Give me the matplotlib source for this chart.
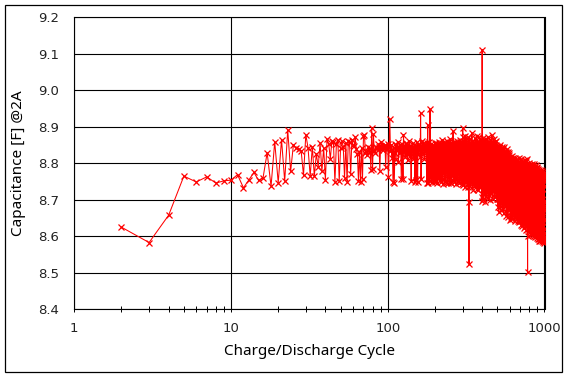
import numpy as np
import matplotlib
matplotlib.use("Agg")
import matplotlib.pyplot as plt
from matplotlib.patches import Rectangle
from matplotlib.ticker import FixedLocator, LogLocator, NullFormatter

# ---------------- data (capacitance [F] per charge/discharge cycle, starting at cycle 2) ----------------
cap_002_100 = [
    8.625, 8.583, 8.658, 8.765, 8.749, 8.763, 8.746, 8.752, 8.754,
    8.769, 8.733, 8.755, 8.775, 8.753, 8.760, 8.829, 8.737, 8.859, 8.747,
    8.865, 8.751, 8.892, 8.778, 8.851, 8.842, 8.838, 8.835, 8.767, 8.879,
    8.842, 8.765, 8.845, 8.765, 8.826, 8.790, 8.856, 8.778, 8.843, 8.755,
    8.866, 8.854, 8.812, 8.862, 8.858, 8.748, 8.852, 8.865, 8.752, 8.843,
    8.860, 8.845, 8.760, 8.855, 8.750, 8.862, 8.858, 8.770, 8.865, 8.850,
    8.848, 8.872, 8.838, 8.826, 8.752, 8.831, 8.748, 8.842, 8.758, 8.874,
    8.878, 8.828, 8.834, 8.822, 8.846, 8.830, 8.841, 8.782, 8.897, 8.784,
    8.880, 8.835, 8.828, 8.846, 8.842, 8.837, 8.852, 8.845, 8.780, 8.848,
    8.858, 8.840, 8.836, 8.848, 8.843, 8.851, 8.789, 8.847, 8.838, 8.852,
]
cap_101_200 = [
    8.762, 8.846, 8.921, 8.834, 8.851, 8.815, 8.838, 8.748, 8.842, 8.746,
    8.829, 8.853, 8.812, 8.845, 8.836, 8.858, 8.804, 8.841, 8.827, 8.849,
    8.838, 8.756, 8.844, 8.852, 8.758, 8.879, 8.831, 8.842, 8.818, 8.855,
    8.839, 8.826, 8.851, 8.808, 8.844, 8.835, 8.862, 8.821, 8.847, 8.833,
    8.752, 8.845, 8.838, 8.856, 8.813, 8.843, 8.829, 8.851, 8.749, 8.839,
    8.847, 8.754, 8.833, 8.858, 8.748, 8.842, 8.826, 8.851, 8.837, 8.845,
    8.818, 8.938, 8.756, 8.848, 8.833, 8.861, 8.825, 8.844, 8.839, 8.857,
    8.812, 8.846, 8.835, 8.852, 8.829, 8.847, 8.745, 8.838, 8.856, 8.906,
    8.747, 8.842, 8.834, 8.858, 8.752, 8.949, 8.761, 8.845, 8.831, 8.853,
    8.749, 8.844, 8.838, 8.756, 8.851, 8.829, 8.846, 8.752, 8.840, 8.855,
]
cap_201_300 = [
    8.748, 8.843, 8.857, 8.751, 8.836, 8.848, 8.746, 8.852, 8.831, 8.763,
    8.845, 8.839, 8.858, 8.755, 8.842, 8.834, 8.749, 8.851, 8.826, 8.847,
    8.757, 8.863, 8.838, 8.744, 8.849, 8.832, 8.855, 8.768, 8.841, 8.846,
    8.752, 8.858, 8.829, 8.843, 8.747, 8.851, 8.836, 8.772, 8.861, 8.840,
    8.745, 8.848, 8.833, 8.856, 8.758, 8.842, 8.837, 8.749, 8.854, 8.866,
    8.761, 8.845, 8.830, 8.852, 8.746, 8.839, 8.857, 8.764, 8.848, 8.835,
    8.888, 8.753, 8.844, 8.828, 8.859, 8.748, 8.841, 8.850, 8.775, 8.836,
    8.855, 8.744, 8.847, 8.832, 8.862, 8.759, 8.843, 8.838, 8.751, 8.853,
    8.829, 8.846, 8.766, 8.857, 8.835, 8.747, 8.849, 8.841, 8.758, 8.864,
    8.833, 8.752, 8.845, 8.858, 8.762, 8.839, 8.851, 8.743, 8.847, 8.872,
]
cap_301_400 = [
    8.897, 8.782, 8.846, 8.741, 8.823, 8.862, 8.768, 8.811, 8.849, 8.735,
    8.874, 8.796, 8.829, 8.752, 8.858, 8.781, 8.837, 8.744, 8.866, 8.803,
    8.758, 8.842, 8.779, 8.853, 8.736, 8.819, 8.871, 8.762, 8.693, 8.523,
    8.803, 8.844, 8.748, 8.868, 8.791, 8.826, 8.739, 8.857, 8.774, 8.816,
    8.851, 8.745, 8.832, 8.884, 8.767, 8.809, 8.843, 8.728, 8.862, 8.786,
    8.821, 8.754, 8.848, 8.797, 8.738, 8.856, 8.813, 8.771, 8.839, 8.749,
    8.869, 8.788, 8.824, 8.742, 8.851, 8.803, 8.764, 8.845, 8.731, 8.876,
    8.792, 8.818, 8.755, 8.861, 8.784, 8.836, 8.726, 8.849, 8.807, 8.768,
    8.857, 8.741, 8.828, 8.872, 8.779, 8.813, 8.752, 8.846, 8.798, 8.735,
    8.863, 8.787, 8.819, 8.744, 8.854, 8.771, 8.831, 8.709, 8.696, 9.112,
]
cap_401_500 = [
    8.812, 8.743, 8.856, 8.781, 8.702, 8.838, 8.764, 8.869, 8.727, 8.805,
    8.846, 8.751, 8.792, 8.863, 8.718, 8.824, 8.773, 8.837, 8.695, 8.851,
    8.784, 8.742, 8.866, 8.809, 8.733, 8.829, 8.761, 8.855, 8.706, 8.797,
    8.843, 8.758, 8.818, 8.724, 8.871, 8.776, 8.801, 8.739, 8.849, 8.768,
    8.712, 8.834, 8.789, 8.859, 8.745, 8.817, 8.699, 8.842, 8.772, 8.826,
    8.753, 8.864, 8.731, 8.798, 8.837, 8.715, 8.856, 8.769, 8.806, 8.741,
    8.877, 8.786, 8.723, 8.845, 8.762, 8.829, 8.703, 8.814, 8.853, 8.748,
    8.795, 8.838, 8.726, 8.866, 8.779, 8.743, 8.821, 8.764, 8.847, 8.708,
    8.811, 8.755, 8.858, 8.734, 8.793, 8.832, 8.717, 8.849, 8.771, 8.802,
    8.739, 8.862, 8.786, 8.724, 8.827, 8.758, 8.843, 8.701, 8.815, 8.776,
]
cap_501_600 = [
    8.848, 8.722, 8.793, 8.681, 8.824, 8.756, 8.836, 8.703, 8.771, 8.812,
    8.668, 8.845, 8.739, 8.798, 8.714, 8.829, 8.752, 8.686, 8.817, 8.763,
    8.851, 8.708, 8.784, 8.733, 8.826, 8.672, 8.807, 8.749, 8.838, 8.696,
    8.779, 8.817, 8.727, 8.844, 8.691, 8.762, 8.803, 8.718, 8.833, 8.745,
    8.674, 8.821, 8.758, 8.795, 8.706, 8.839, 8.735, 8.782, 8.663, 8.814,
    8.769, 8.728, 8.846, 8.689, 8.801, 8.751, 8.823, 8.712, 8.776, 8.834,
    8.682, 8.792, 8.741, 8.815, 8.698, 8.829, 8.764, 8.723, 8.809, 8.657,
    8.786, 8.832, 8.715, 8.758, 8.819, 8.677, 8.797, 8.744, 8.838, 8.702,
    8.768, 8.811, 8.734, 8.654, 8.826, 8.752, 8.789, 8.693, 8.831, 8.729,
    8.805, 8.671, 8.774, 8.822, 8.716, 8.763, 8.828, 8.685, 8.799, 8.741,
]
cap_601_700 = [
    8.818, 8.696, 8.758, 8.645, 8.802, 8.731, 8.779, 8.667, 8.812, 8.719,
    8.754, 8.683, 8.807, 8.742, 8.651, 8.791, 8.726, 8.773, 8.698, 8.821,
    8.711, 8.766, 8.648, 8.795, 8.737, 8.689, 8.814, 8.722, 8.757, 8.662,
    8.786, 8.704, 8.748, 8.809, 8.676, 8.739, 8.797, 8.658, 8.771, 8.716,
    8.803, 8.692, 8.752, 8.643, 8.784, 8.728, 8.816, 8.681, 8.745, 8.702,
    8.789, 8.655, 8.762, 8.735, 8.808, 8.673, 8.721, 8.776, 8.647, 8.794,
    8.714, 8.758, 8.687, 8.806, 8.733, 8.661, 8.781, 8.706, 8.744, 8.812,
    8.669, 8.753, 8.724, 8.792, 8.641, 8.768, 8.709, 8.801, 8.684, 8.738,
    8.779, 8.652, 8.815, 8.726, 8.695, 8.763, 8.638, 8.797, 8.713, 8.748,
    8.671, 8.786, 8.732, 8.804, 8.659, 8.741, 8.698, 8.775, 8.644, 8.759,
]
cap_701_800 = [
    8.803, 8.678, 8.739, 8.632, 8.771, 8.706, 8.794, 8.655, 8.727, 8.689,
    8.812, 8.643, 8.754, 8.718, 8.668, 8.783, 8.697, 8.741, 8.627, 8.769,
    8.702, 8.798, 8.661, 8.735, 8.684, 8.806, 8.648, 8.751, 8.714, 8.776,
    8.636, 8.729, 8.692, 8.789, 8.657, 8.745, 8.709, 8.624, 8.768, 8.681,
    8.797, 8.719, 8.646, 8.758, 8.698, 8.781, 8.629, 8.737, 8.671, 8.809,
    8.703, 8.652, 8.764, 8.724, 8.639, 8.792, 8.686, 8.748, 8.618, 8.775,
    8.695, 8.733, 8.658, 8.806, 8.711, 8.664, 8.786, 8.627, 8.742, 8.707,
    8.779, 8.645, 8.721, 8.682, 8.813, 8.673, 8.756, 8.634, 8.601, 8.501,
    8.712, 8.791, 8.654, 8.738, 8.689, 8.771, 8.621, 8.747, 8.702, 8.793,
    8.668, 8.726, 8.641, 8.784, 8.695, 8.752, 8.616, 8.735, 8.679, 8.802,
]
cap_801_900 = [
    8.662, 8.739, 8.611, 8.774, 8.693, 8.648, 8.787, 8.704, 8.627, 8.756,
    8.681, 8.796, 8.638, 8.721, 8.605, 8.762, 8.674, 8.745, 8.617, 8.783,
    8.698, 8.656, 8.771, 8.629, 8.714, 8.792, 8.643, 8.733, 8.608, 8.758,
    8.687, 8.776, 8.634, 8.709, 8.652, 8.798, 8.676, 8.742, 8.613, 8.765,
    8.696, 8.639, 8.781, 8.667, 8.728, 8.604, 8.754, 8.683, 8.794, 8.645,
    8.717, 8.621, 8.769, 8.691, 8.658, 8.786, 8.632, 8.736, 8.601, 8.761,
    8.674, 8.798, 8.646, 8.712, 8.619, 8.777, 8.688, 8.741, 8.609, 8.753,
    8.665, 8.789, 8.637, 8.724, 8.598, 8.768, 8.681, 8.633, 8.795, 8.706,
    8.652, 8.759, 8.612, 8.731, 8.692, 8.783, 8.626, 8.745, 8.668, 8.602,
    8.774, 8.699, 8.641, 8.787, 8.615, 8.727, 8.676, 8.762, 8.596, 8.734,
]
cap_901_1000 = [
    8.658, 8.791, 8.623, 8.714, 8.594, 8.757, 8.679, 8.632, 8.776, 8.689,
    8.607, 8.743, 8.661, 8.785, 8.618, 8.706, 8.588, 8.761, 8.672, 8.637,
    8.772, 8.694, 8.601, 8.738, 8.655, 8.783, 8.614, 8.725, 8.592, 8.749,
    8.668, 8.629, 8.777, 8.685, 8.603, 8.752, 8.646, 8.718, 8.586, 8.766,
    8.676, 8.621, 8.781, 8.697, 8.599, 8.735, 8.658, 8.609, 8.769, 8.684,
    8.594, 8.746, 8.663, 8.774, 8.611, 8.712, 8.587, 8.758, 8.671, 8.626,
    8.779, 8.692, 8.602, 8.731, 8.648, 8.598, 8.767, 8.679, 8.615, 8.754,
    8.665, 8.589, 8.772, 8.703, 8.627, 8.743, 8.596, 8.686, 8.761, 8.638,
    8.584, 8.729, 8.657, 8.776, 8.605, 8.698, 8.591, 8.752, 8.672, 8.619,
    8.765, 8.683, 8.597, 8.738, 8.644, 8.582, 8.758, 8.671, 8.608, 8.773,
]
first_cycle = 2
x_ticks = [1, 10, 100, 1000]
x_tick_labels = ["1", "10", "100", "1000"]
y_ticks = [8.4, 8.5, 8.6, 8.7, 8.8, 8.9, 9.0, 9.1, 9.2]
y_tick_labels = ["8.4", "8.5", "8.6", "8.7", "8.8", "8.9", "9.0", "9.1", "9.2"]
x_label = "Charge/Discharge Cycle"
y_label = "Capacitance [F] @2A"

capacitance = np.array(cap_002_100 + cap_101_200 + cap_201_300 + cap_301_400 + cap_401_500
                       + cap_501_600 + cap_601_700 + cap_701_800 + cap_801_900 + cap_901_1000)
cycles = np.arange(first_cycle, first_cycle + len(capacitance))

# ---------------- figure ----------------
W, H = 568, 381
fig = plt.figure(figsize=(W / 100, H / 100), dpi=100)
fig.patch.set_facecolor("white")

# outer chart border
fig.add_artist(Rectangle((5.4 / W, 1 - 371.7 / H), (561.7 - 5.4) / W, (371.7 - 5.4) / H,
                         transform=fig.transFigure, fill=False, edgecolor="black", linewidth=0.9))

left, right, top, bottom = 74.3, 544.5, 17.4, 309.3
ax = fig.add_axes([left / W, 1 - bottom / H, (right - left) / W, (bottom - top) / H])

ax.plot(cycles, capacitance, color="#FF0000", linewidth=0.75, marker="x",
        markersize=4.5, markeredgewidth=0.9, zorder=3)

ax.set_xscale("log")
ax.set_xlim(1, 1000)
ax.set_ylim(8.4, 9.2)

ax.xaxis.set_major_locator(FixedLocator(x_ticks))
ax.set_xticklabels(x_tick_labels)
ax.xaxis.set_minor_locator(LogLocator(base=10, subs=np.arange(2, 10)))
ax.xaxis.set_minor_formatter(NullFormatter())
ax.set_yticks(y_ticks)
ax.set_yticklabels(y_tick_labels)

ax.set_axisbelow(True)
ax.grid(True, which="major", color="black", linewidth=0.8)
for s in ax.spines.values():
    s.set_color("black")
    s.set_linewidth(0.8)

ax.tick_params(axis="x", which="both", direction="inout", length=3.8, width=0.7,
               color="black", pad=7.5)
ax.tick_params(axis="y", which="both", length=0, pad=10.8)
for lab in ax.get_xticklabels() + ax.get_yticklabels():
    lab.set_fontfamily("DejaVu Sans")
    lab.set_fontsize(9.5)
    lab.set_color("#222222")

ax.set_xlabel(x_label, fontsize=11, family="Noto Sans", fontweight="semibold", va="center")
ax.xaxis.set_label_coords(0.5, -0.146)
ax.set_ylabel(y_label, fontsize=11, family="Noto Sans", fontweight="semibold", va="center")
ax.yaxis.set_label_coords(-0.118, 0.5)

fig.savefig("out.png", dpi=100)
